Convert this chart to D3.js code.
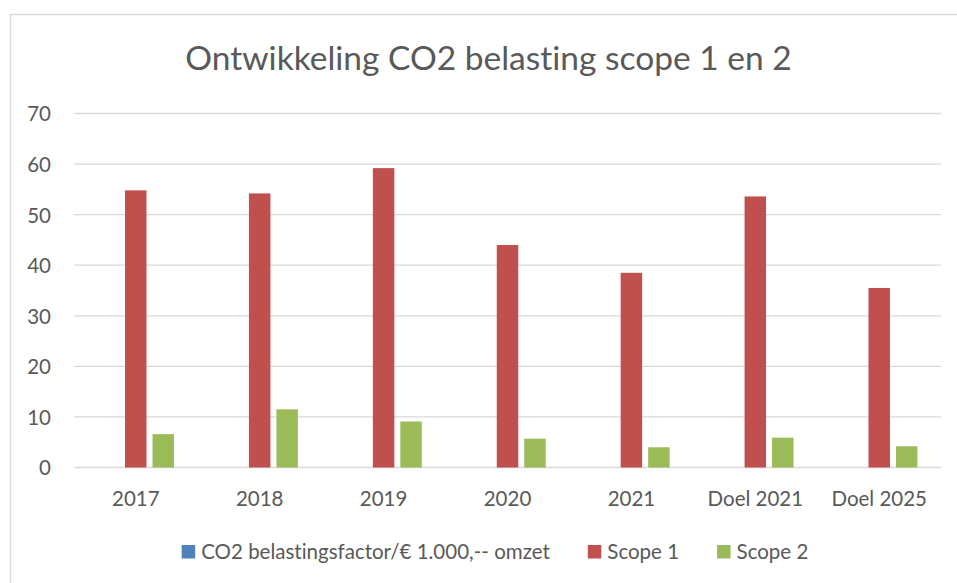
<!DOCTYPE html>
<html>
<head>
<meta charset="utf-8">
<script src="https://cdn.jsdelivr.net/npm/d3@7"></script>
<style>
	body { margin: 0; background: #fff; }
	#chart { width: 957px; height: 583px; }
	svg text { font-variant-ligatures: none; }
	.axisGrey text { fill: #595959; font-family: Lato, sans-serif; font-size: 20.5px; }
	.axisGrey path { display: none; }
</style>
</head>
<body>
<div id="chart"></div>
<script>
const title = "Ontwikkeling CO2 belasting scope 1 en 2";
const categories = ["2017", "2018", "2019", "2020", "2021", "Doel 2021", "Doel 2025"];
const seriesNames = ["CO2 belastingsfactor/€ 1.000,-- omzet", "Scope 1", "Scope 2"];
const factorValues = [0, 0, 0, 0, 0, 0, 0];
const scope1Values = [54.8, 54.2, 59.2, 44.0, 38.5, 53.6, 35.5];
const scope2Values = [6.6, 11.5, 9.1, 5.7, 4.0, 5.9, 4.2];
const yTicks = [0, 10, 20, 30, 40, 50, 60, 70];

class ColumnChart{
	/**
	* ColumnChart Constructor
	* @param id the div id in which we draw the chart
	*/
	constructor(id){
		this.id = id;
		this.div = d3.select("#" + id);
		this.colors = ['#4f81bd', '#c0504d', '#9bbb59'];
		this.series = [factorValues, scope1Values, scope2Values];
		this.rows = categories.map((c, i) => ({
			cat: c,
			values: seriesNames.map((s, j) => ({name: s, value: this.series[j][i]}))
		}));

		this.instantiateSVG();
		this.instantiateAxes();
		this.render();
		this.drawLegend();
	}

	instantiateSVG(){
		this.width = 957;
		this.height = 583;
		this.margin = {top: 113.5, right: 16, bottom: 115.5, left: 74};
		this.svg = this.div.append('svg')
				.attr('width', this.width)
				.attr('height', this.height);

		// chart area border
		this.svg.append('rect')
			.attr('x', 10.5).attr('y', 14.5)
			.attr('width', 980).attr('height', 620)
			.attr('fill', '#fff')
			.attr('stroke', '#d9d9d9')
			.attr('stroke-width', 1.5);

		this.svg.append('text')
			.attr('x', 488.5).attr('y', 70)
			.attr('text-anchor', 'middle')
			.attr('fill', '#595959')
			.style('font-family', 'Lato, sans-serif')
			.style('font-size', '33.5px')
			.text(title);

		this.innerWidth = this.width - (this.margin.left + this.margin.right);
		this.innerHeight = this.height - (this.margin.top + this.margin.bottom);
		this.g = this.svg.append('g')
			.attr('transform', 'translate(' + this.margin.left + ',' + this.margin.top + ')');
	}

	instantiateAxes(){
		this.x0 = d3.scaleBand()
			.domain(categories)
			.range([0, this.innerWidth])
			.paddingInner(0.383)
			.paddingOuter(0.19);
		this.x1 = d3.scaleBand()
			.domain(seriesNames)
			.range([0, this.x0.bandwidth()])
			.paddingInner(0.218);
		this.y = d3.scaleLinear()
			.domain([0, 70])
			.range([this.innerHeight, 0]);

		// gridlines
		this.g.append('g')
			.selectAll('line')
			.data(yTicks)
			.enter().append('line')
				.attr('x1', 0)
				.attr('x2', this.innerWidth)
				.attr('y1', d => this.y(d))
				.attr('y2', d => this.y(d))
				.attr('stroke', '#d9d9d9')
				.attr('stroke-width', 1.3);

		this.g.append('g')
			.attr('class', 'axisGrey')
			.call(d3.axisLeft(this.y).tickValues(yTicks).tickSize(0).tickPadding(23))
			.call(g => g.selectAll('text').attr('dy', '0.36em'));

		this.g.append('g')
			.attr('class', 'axisGrey')
			.attr('transform', 'translate(0,' + this.innerHeight + ')')
			.call(d3.axisBottom(this.x0).tickSize(0))
			.call(g => g.selectAll('text').attr('y', 38.5).attr('dy', 0));
	}

	render(){
		const groups = this.g.selectAll('.group')
			.data(this.rows)
			.enter().append('g')
				.attr('class', 'group')
				.attr('transform', d => 'translate(' + this.x0(d.cat) + ',0)');

		groups.selectAll('rect')
			.data(d => d.values)
			.enter().append('rect')
				.attr('x', d => this.x1(d.name))
				.attr('y', d => this.y(d.value))
				.attr('width', this.x1.bandwidth())
				.attr('height', d => this.innerHeight - this.y(d.value))
				.attr('fill', (d, i) => this.colors[i]);
	}

	drawLegend(){
		const legend = this.svg.append('g');
		let x = 0;
		seriesNames.forEach((s, i) => {
			const item = legend.append('g').attr('transform', 'translate(' + x + ',0)');
			item.append('rect')
				.attr('x', 0).attr('y', 545)
				.attr('width', 13.5).attr('height', 13.5)
				.attr('fill', this.colors[i]);
			const t = item.append('text')
				.attr('x', 19.5).attr('y', 559)
				.attr('fill', '#595959')
				.style('font-family', 'Lato, sans-serif')
				.style('font-size', '20.5px')
				.text(s);
			x += 19.5 + t.node().getComputedTextLength() + 38;
		});
		const total = x - 38;
		legend.attr('transform', 'translate(' + (495 - total / 2) + ',0)');
	}
}

new ColumnChart('chart');
</script>
</body>
</html>
